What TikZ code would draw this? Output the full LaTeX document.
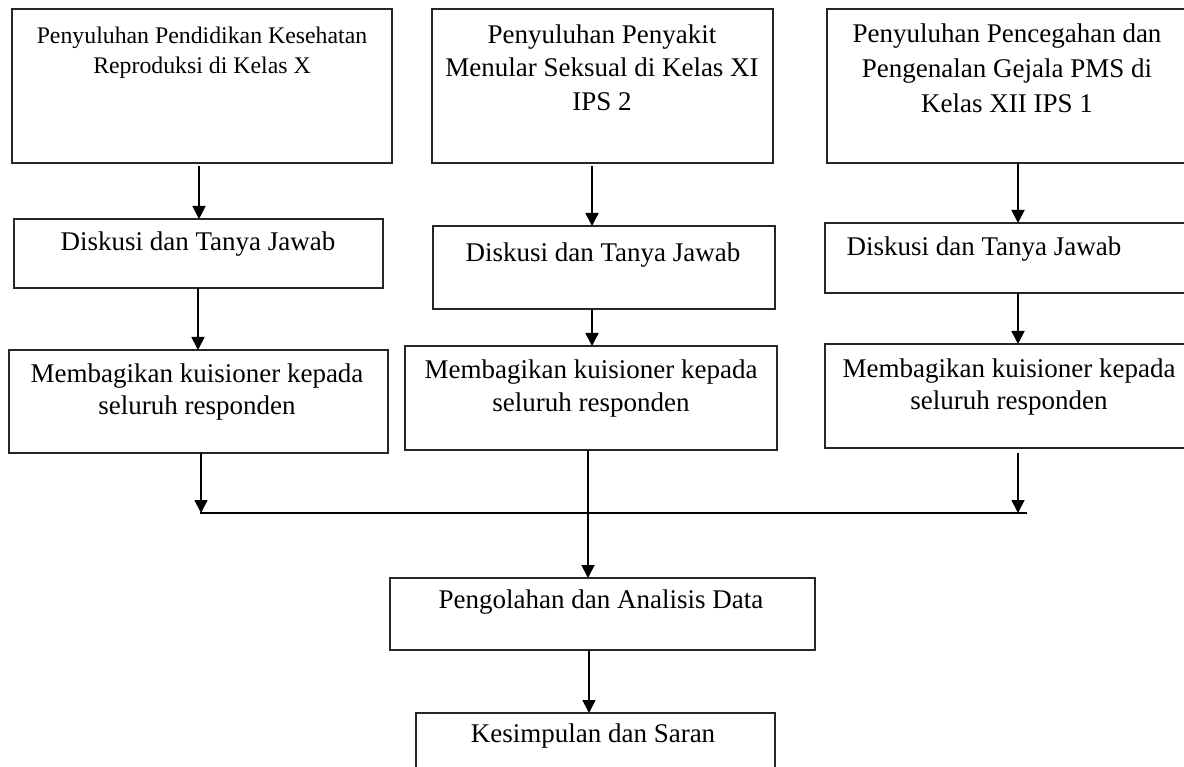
\documentclass[tikz,border=0pt]{standalone}
\usepackage{fontspec}
\setmainfont{Liberation Serif}
\usetikzlibrary{arrows.meta}
\begin{document}
\begin{tikzpicture}[x=1pt,y=-1pt,
  box/.style={draw=black!85, line width=1.8pt, inner sep=0pt, outer sep=0pt, anchor=north west},
  lbl/.style={align=center, anchor=north, inner sep=0pt, text=black},
  big/.style={font=\fontsize{27}{34}\selectfont},
  arr/.style={line width=1.8pt, -{Triangle[width=13pt,length=13pt]}},
  ln/.style={line width=1.8pt}]
\useasboundingbox (0,0) rectangle (1184,767);
\clip (0,0) rectangle (1184,767);
% boxes
\node[box, minimum width=380pt, minimum height=154pt] (a1) at (12,9) {};
\node[box, minimum width=341pt, minimum height=154pt] (b1) at (432,9) {};
\node[box, minimum width=373pt, minimum height=154pt] (c1) at (827,9) {};
\node[box, minimum width=369pt, minimum height=69pt] (a2) at (14,219) {};
\node[box, minimum width=342pt, minimum height=83pt] (b2) at (433,226) {};
\node[box, minimum width=375pt, minimum height=70pt] (c2) at (825,223) {};
\node[box, minimum width=379pt, minimum height=103pt] (a3) at (9,350) {};
\node[box, minimum width=372pt, minimum height=104pt] (b3) at (405,346) {};
\node[box, minimum width=375pt, minimum height=104pt] (c3) at (825,344) {};
\node[box, minimum width=425pt, minimum height=72pt] (d) at (390,578) {};
\node[box, minimum width=359pt, minimum height=70pt] (e) at (416,713) {};
% labels
\node[lbl, font=\fontsize{23.8}{30}\selectfont] (ta1) at (202,26.6) {Penyuluhan Pendidikan Kesehatan\\Reproduksi di Kelas X};
\node[lbl, font=\fontsize{27}{33.5}\selectfont] (tb1) at (602,24.4) {Penyuluhan Penyakit\\Menular Seksual di Kelas XI\\IPS 2};
\node[lbl, font=\fontsize{27}{35}\selectfont] (tc1) at (1007,23.4) {Penyuluhan Pencegahan dan\\Pengenalan Gejala PMS di\\Kelas XII IPS 1};
\node[lbl, big] (ta2) at (198,231.4) {Diskusi dan Tanya Jawab};
\node[lbl, big] (tb2) at (603,242.4) {Diskusi dan Tanya Jawab};
\node[lbl, big] (tc2) at (984,236.4) {Diskusi dan Tanya Jawab};
\node[lbl, font=\fontsize{27}{32}\selectfont] (ta3) at (197,363.4) {Membagikan kuisioner kepada\\seluruh responden};
\node[lbl, font=\fontsize{27}{33}\selectfont] (tb3) at (591,359.4) {Membagikan kuisioner kepada\\seluruh responden};
\node[lbl, font=\fontsize{27}{32}\selectfont] (tc3) at (1009,358.4) {Membagikan kuisioner kepada\\seluruh responden};
\node[lbl, big] (td) at (601,589.4) {Pengolahan dan Analisis Data};
\node[lbl, big] (te) at (593,723.4) {Kesimpulan dan Saran};
% junction points
\coordinate (ja) at (201,513);
\coordinate (jc) at (1018,513);
\coordinate (jend) at (1027,513);
\coordinate (xa) at (199,0);
\coordinate (xa2) at (198,0);
\coordinate (xb) at (592,0);
\coordinate (xb3) at (588,0);
\coordinate (xd) at (589,0);
% connectors
\draw[arr] ([yshift=-3pt]a1.south -| xa) -- (a2.north -| xa);
\draw[arr] ([yshift=-3pt]b1.south -| xb) -- (b2.north -| xb);
\draw[arr] (c1.south -| jc) -- (c2.north -| jc);
\draw[arr] (a2.south -| xa2) -- (a3.north -| xa2);
\draw[arr] (b2.south -| xb) -- (b3.north -| xb);
\draw[arr] (c2.south -| jc) -- (c3.north -| jc);
\draw[arr] (a3.south -| ja) -- (ja);
\draw[arr] ([yshift=-5pt]c3.south -| jc) -- (jc);
\draw[ln] ([xshift=-1pt]ja) -- (jend);
\draw[arr] (b3.south -| xb3) -- (d.north -| xb3);
\draw[arr] (d.south -| xd) -- (e.north -| xd);
\end{tikzpicture}
\end{document}
